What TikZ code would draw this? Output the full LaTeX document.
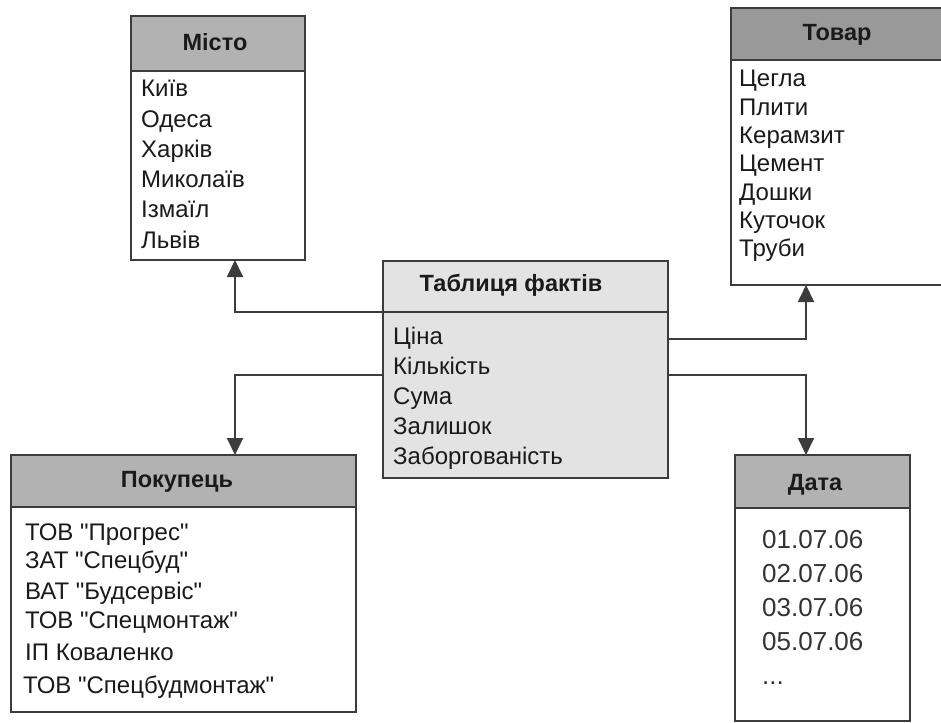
\documentclass[tikz,border=0pt]{standalone}
\usepackage{fontspec}
\setmainfont{Liberation Sans}[Ligatures=TeXOff]
\usetikzlibrary{arrows.meta,calc}
\definecolor{edge}{HTML}{3C3C3C}
\definecolor{headA}{HTML}{B2B2B2}
\definecolor{headB}{HTML}{999999}
\definecolor{factfill}{HTML}{E3E3E3}
\definecolor{ink}{HTML}{1A1A1A}
\definecolor{dateink}{HTML}{333333}

\begin{document}
\begin{tikzpicture}[x=1pt,y=-1pt,
  box/.style={draw=edge, line width=1.8pt, inner sep=0pt, outer sep=0pt, anchor=north west},
  title/.style={font=\fontsize{23.5}{27}\selectfont\bfseries, text=ink, anchor=base, inner sep=0pt},
  item/.style={font=\fontsize{24}{28}\selectfont, text=ink, anchor=base west, inner sep=0pt},
  dateitem/.style={font=\fontsize{26}{30}\selectfont, text=dateink, anchor=base west, inner sep=0pt},
  link/.style={draw=edge, line width=1.8pt, -{Triangle[length=17pt,width=16pt]}},
]
\useasboundingbox (0,0) rectangle (941,722);
\fill[white] (0,0) rectangle (941,722);

% --- Місто ---
\node[box, fill=white, minimum width=174pt, minimum height=189pt] (mb) at (131,71) {};
\node[box, fill=headA, minimum width=174pt, minimum height=55pt] (mh) at (131,16) {};
\node[title] (mt) at (215,51) {Місто};
\foreach \t [count=\i from 0] in {Київ,Одеса,Харків,Миколаїв,Ізмаїл,Львів}
  \node[item] (m\i) at (141,{97+30.2*\i}) {\t};

% --- Товар ---
\node[box, fill=white, minimum width=214pt, minimum height=225pt] (tb) at (731,60) {};
\node[box, fill=headB, minimum width=214pt, minimum height=52pt] (th) at (731,8) {};
\node[title] (tt) at (837,41) {Товар};
\foreach \t [count=\i from 0] in {Цегла,Плити,Керамзит,Цемент,Дошки,Куточок,Труби}
  \node[item] (t\i) at (739,{87+28.3*\i}) {\t};

% --- Таблиця фактів ---
\node[box, fill=factfill, minimum width=285pt, minimum height=166pt] (fb) at (383,312) {};
\node[box, fill=factfill, minimum width=285pt, minimum height=51pt] (fh) at (383,261) {};
\node[title] (ft) at (511,291) {Таблиця фактів};
\foreach \t [count=\i from 0] in {Ціна,Кількість,Сума,Залишок,Заборгованість}
  \node[item] (f\i) at (393,{344+30*\i}) {\t};

% --- Покупець ---
\node[box, fill=white, minimum width=345pt, minimum height=205pt] (pb) at (11,507) {};
\node[box, fill=headA, minimum width=345pt, minimum height=52pt] (ph) at (11,455) {};
\node[title] (pt) at (177,487) {Покупець};
\foreach \x/\y/\t [count=\i] in {25/540/ТОВ "Прогрес",25/568/ЗАТ "Спецбуд",25/599/ВАТ "Будсервіс",
    25/628/ТОВ "Спецмонтаж",25/660/ІП Коваленко,23/693/ТОВ "Спецбудмонтаж"}
  \node[item] (p\i) at (\x,\y) {\t};

% --- Дата ---
\node[box, fill=white, minimum width=175pt, minimum height=213pt] (db) at (735,508) {};
\node[box, fill=headA, minimum width=175pt, minimum height=53pt] (dh) at (735,455) {};
\node[title] (dt) at (815,490) {Дата};
\foreach \y/\t [count=\i] in {548/01.07.06,582/02.07.06,616/03.07.06,650/05.07.06}
  \node[dateitem] (d\i) at (762,\y) {\t};
\node[dateitem] (d5) at (762,684) {...};

% --- connectors ---
\coordinate (mtip) at ($(mb.south west)+(104,0)$);
\coordinate (ptip) at ($(ph.north west)+(224,0)$);
\coordinate (ttip) at ($(tb.south west)+(75,0)$);
\coordinate (dtip) at ($(dh.north west)+(71,0)$);
\draw[link] (fb.north west) -| (mtip);
\draw[link] ($(fb.north west)+(0,63)$) -| (ptip);
\draw[link] ($(fb.north east)+(0,27)$) -| (ttip);
\draw[link] ($(fb.north east)+(0,63)$) -| (dtip);
\end{tikzpicture}
\end{document}
